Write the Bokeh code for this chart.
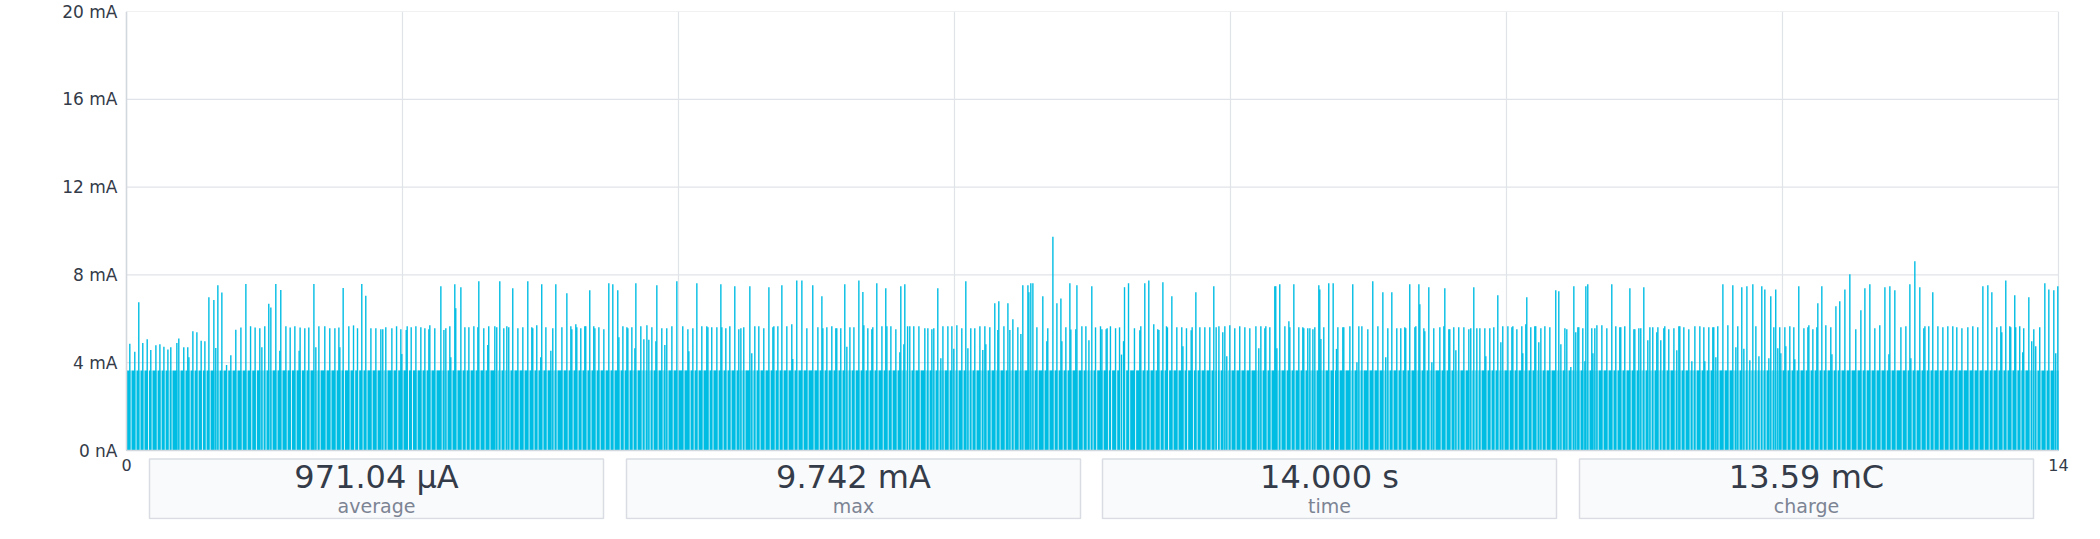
import numpy as np
from bokeh.plotting import figure
from bokeh.models import FixedTicker, Range1d
from bokeh.core.properties import value
from bokeh.embed import file_html
from bokeh.resources import INLINE

# ---------------- data ----------------
# spike times (ms) and spike peak currents (mA), in eight consecutive sections
t0 = [24,60,89,118,150,176,213,242,271,300,321,365,379,415,444,452,481,510,541,568,597,633,647,662,691,725,756,792,829,865,899,932,966,981,1002,1031,1046,1082,1111,1118,1155,1186,1220,1251,1258,1292,1321,1358,1372,1394,1437,1473,1510,1539,1546,1570,1611,1645,1674,1705,1734]
p0 = [4.86,4.5,6.75,4.9,5.07,4.58,4.8,4.84,4.73,4.6,4.7,4.9,5.1,4.7,4.7,4.25,5.43,5.39,5.0,4.98,6.98,6.86,4.67,7.53,7.2,3.9,4.34,5.5,5.6,7.59,5.66,5.6,5.57,4.7,5.66,6.68,6.52,7.59,4.55,7.31,5.66,5.6,5.66,4.55,5.6,5.57,5.6,7.59,4.7,5.66,5.66,5.57,5.57,5.6,4.7,7.4,5.66,5.7,5.57,7.59,7.05]
t1 = [1771,1807,1843,1857,1879,1923,1957,1988,1995,2027,2034,2063,2097,2133,2162,2191,2198,2234,2278,2300,2314,2343,2350,2379,2386,2423,2452,2481,2517,2546,2553,2589,2618,2625,2669,2683,2705,2734,2756,2770,2799,2836,2872,2908,2937,2944,2973,3002,3009,3039,3075,3089,3111,3155,3191,3220,3227,3256,3263,3292,3321,3328,3357,3386,3394,3423,3459,3495]
p1 = [5.57,5.57,5.52,5.52,5.61,5.57,5.66,5.52,4.4,5.49,5.66,5.61,5.66,5.61,5.57,5.52,5.71,5.57,7.48,5.49,5.57,5.66,4.25,7.57,6.48,7.44,5.61,5.61,5.66,5.61,7.71,5.57,4.81,5.66,5.66,5.61,7.71,5.57,5.66,5.61,7.39,5.57,5.61,7.71,5.61,5.57,5.71,4.25,7.57,5.61,4.55,5.57,7.57,5.61,7.16,5.66,5.52,5.75,5.61,5.57,5.66,5.66,7.3,5.66,5.57,5.61,5.52,7.62]
t2 = [3524,3560,3568,3597,3626,3633,3662,3684,3691,3727,3749,3771,3785,3807,3836,3843,3879,3901,3915,3952,3988,4031,4068,4075,4104,4133,4169,4205,4213,4241,4278,4307,4314,4343,4372,4408,4437,4452,4473,4517,4531,4553,4582,4618,4655,4684,4691,4720,4749,4785,4821,4828,4857,4894,4930,4973,5010,5039,5046,5075,5111,5140,5147,5176,5205,5220,5242]
p2 = [7.57,7.3,5.16,5.66,5.61,5.57,5.61,4.66,7.62,5.66,5.07,5.71,5.04,5.61,4.98,7.53,5.57,4.81,5.57,5.66,7.71,5.66,5.52,4.52,5.57,7.62,5.66,5.66,5.61,5.61,5.61,7.57,5.61,5.57,5.66,7.48,5.52,5.57,5.61,7.48,4.43,5.66,5.66,5.57,7.44,5.61,5.66,5.66,7.53,5.66,5.75,4.17,7.75,7.75,5.57,7.53,5.61,7.03,5.57,5.61,5.66,5.57,5.57,5.57,7.57,4.73,5.61]
t3 = [5271,5307,5336,5343,5372,5401,5408,5437,5474,5502,5510,5539,5575,5604,5611,5633,5640,5660,5676,5705,5742,5785,5807,5836,5850,5879,5901,5916,5952,5981,5995,6017,6053,6082,6097,6118,6147,6184,6205,6220,6227,6256,6292,6314,6321,6358,6387,6401,6423,6459,6481,6495,6532,6539,6553,6568,6597,6640,6669,6676,6713,6742,6771,6778,6807,6836,6843,6879,6887,6923,6952,6974,6995]
p3 = [5.61,7.75,7.22,5.71,5.57,5.52,5.61,7.62,5.66,7.39,5.66,5.66,5.52,4.48,7.48,4.84,7.57,5.66,5.66,5.66,5.66,5.57,5.57,5.52,5.57,7.39,4.2,5.66,5.66,5.66,4.63,5.71,5.57,7.71,4.66,5.57,5.57,5.66,4.58,5.66,4.84,5.61,6.71,5.49,6.8,5.66,6.71,5.49,5.98,5.61,5.31,7.53,7.53,7.21,7.62,7.62,5.61,7.03,4.98,5.57,9.74,6.71,6.93,4.98,5.61,7.62,5.51,5.52,7.53,5.66,5.66,5.02,7.48]
t4 = [7022,7058,7068,7099,7106,7130,7167,7196,7210,7225,7232,7261,7304,7343,7350,7379,7408,7444,7473,7481,7510,7536,7543,7575,7611,7647,7655,7681,7715,7722,7749,7778,7814,7850,7879,7896,7916,7944,7959,7973,7995,8031,8067,8104,8140,8184,8205,8220,8249,8256,8285,8321,8328,8336,8357,8394,8423,8430,8459,8495,8524,8531,8560,8575,8597,8611,8640,8647,8655,8676,8712,8744]
p4 = [5.61,5.66,5.52,5.52,5.57,5.66,5.57,5.61,4.37,4.98,7.44,7.62,5.57,5.48,5.66,7.62,7.75,5.75,5.52,5.49,7.66,5.66,5.61,7.03,5.61,5.61,4.75,5.57,5.48,5.61,7.21,5.61,5.61,5.61,7.48,5.61,5.66,5.39,5.66,4.29,5.71,5.57,5.66,5.61,5.57,5.66,4.66,5.66,5.57,5.66,5.61,7.48,7.48,4.66,7.57,5.66,5.89,5.61,7.57,5.61,5.61,5.57,5.57,5.57,5.52,5.61,7.53,7.34,5.08,5.61,7.62,7.62]
t5 = [8768,8778,8814,8821,8865,8886,8916,8930,8952,8995,9031,9068,9104,9125,9140,9169,9205,9234,9263,9270,9299,9336,9343,9365,9372,9401,9408,9437,9459,9473,9517,9546,9553,9582,9589,9618,9633,9654,9691,9727,9741,9763,9785,9807,9843,9850,9879,9908,9937,9959,9973,10010,10039,10046,10075,10111,10118,10140,10147,10176,10205,10212,10234,10249,10278,10314,10357,10379,10394,10423,10437,10466,10488,10502,10517]
p5 = [4.63,5.61,5.61,5.61,5.66,7.57,4.02,5.66,5.66,5.52,7.71,5.66,7.21,4.25,5.57,7.21,5.57,5.57,5.61,5.57,7.57,5.61,5.66,7.57,6.66,5.57,5.43,7.44,4.02,5.57,5.61,5.66,7.39,5.52,5.52,5.61,4.57,5.61,5.61,5.52,5.57,7.44,5.57,5.57,5.57,4.29,5.57,5.61,7.07,4.93,5.66,5.66,5.61,5.66,5.52,5.66,4.43,5.75,6.98,5.61,5.66,5.66,4.93,5.57,5.66,5.61,7.3,7.25,4.84,5.57,5.52,3.8,7.48,5.39,5.61]
t6 = [10524,10553,10568,10575,10589,10618,10626,10640,10655,10691,10727,10763,10792,10821,10828,10857,10894,10923,10930,10959,10973,10995,11024,11039,11060,11089,11097,11118,11140,11147,11176,11213,11234,11249,11256,11285,11321,11343,11365,11401,11430,11437,11466,11495,11502,11517,11531,11568,11604,11640,11662,11676,11705,11720,11742,11763,11785,11807,11829,11850,11872,11901,11915,11937,11951,11966,11980,11988,12017,12024,12053,12082,12089,12118,12155,12184,12191,12220,12249,12256]
p6 = [5.61,5.57,4.07,7.48,7.57,5.57,4.43,5.57,5.71,5.71,5.57,7.57,5.66,5.61,5.61,5.66,7.39,5.52,5.52,5.57,5.57,7.44,5.02,5.61,5.61,5.39,5.61,5.02,5.57,5.66,5.52,5.57,4.57,5.66,5.66,5.61,5.52,4.07,5.66,5.66,5.61,4.07,5.61,5.61,5.61,4.25,5.66,7.57,5.71,7.53,4.7,5.66,7.44,4.63,7.48,4.11,7.57,5.66,4.29,7.48,7.34,4.2,7.03,5.61,7.34,4.66,5.61,4.43,5.61,4.75,5.66,5.61,4.16,7.48,5.57,5.61,5.71,5.52,5.61,6.71]
t7 = [12285,12314,12350,12358,12387,12415,12452,12488,12531,12568,12597,12633,12669,12705,12742,12771,12778,12814,12858,12894,12923,12930,12959,12995,13024,13032,13060,13089,13126,13162,13198,13234,13263,13300,13343,13379,13415,13452,13488,13517,13553,13582,13589,13618,13647,13654,13683,13690,13719,13741,13748,13785,13806,13821,13835,13864,13901,13930,13966,13980,13995]
p7 = [7.48,5.71,5.61,4.39,6.57,6.8,7.34,8.03,5.52,6.39,7.39,7.57,5.57,5.71,7.44,4.39,7.48,7.3,5.61,5.66,7.57,4.2,8.62,7.44,5.57,5.66,5.66,7.21,5.66,5.61,5.66,5.66,5.61,5.57,5.61,5.66,5.61,7.48,7.53,7.21,5.61,5.66,5.39,7.75,5.66,5.61,7.07,5.61,5.66,4.48,5.57,6.98,4.98,5.52,4.75,5.61,7.62,7.34,7.3,4.43,7.48]

BASE_MA = 3.65          # quiescent plateau between spikes
DURATION_S = 14.0
Y_MAX_MA = 20.0

STAT_VALUES = ["971.04 µA", "9.742 mA", "14.000 s", "13.59 mC"]
STAT_NAMES = ["average", "max", "time", "charge"]

Y_TICKS_MA = [0, 4, 8, 12, 16, 20]
Y_TICK_LABELS = ["0 nA", "4 mA", "8 mA", "12 mA", "16 mA", "20 mA"]
X_TICKS_S = [0, 2, 4, 6, 8, 10, 12, 14]
X_TICK_LABELS = ["0", "", "", "", "", "", "", "14"]

# ---------------- layout (canvas pixels) ----------------
W, H = 2088, 539
ML, MR, MT, MB = 117, 14, 11, 20
X0_PX, XEND_PX = 126, 2058            # columns of t = 0 s and t = 14 s
FRAME_LEFT, FRAME_RIGHT = ML, W - MR
FRAME_TOP, FRAME_BOTTOM = MT, H - MB
ZERO_Y = 450                          # row of 0 mA
S_PER_PX = DURATION_S / (XEND_PX - X0_PX)
PX_PER_MA = (ZERO_Y - FRAME_TOP) / Y_MAX_MA

def px_x(px):   # canvas column -> seconds
    return (px - X0_PX) * S_PER_PX

def px_y(py):   # canvas row -> mA
    return (ZERO_Y - py) / PX_PER_MA

CYAN = "#00bde3"
GRID = "#e0e3e8"
AXIS = "#d3d8de"
DARK = "#343b49"
GREY = "#7c8494"
FONT = "DejaVu Sans"

times_ms = t0 + t1 + t2 + t3 + t4 + t5 + t6 + t7
peaks_ma = p0 + p1 + p2 + p3 + p4 + p5 + p6 + p7
t = np.array(times_ms, dtype=float) / 1000.0
pk = np.array(peaks_ma, dtype=float)

fig = figure(width=W, height=H,
             x_range=Range1d(px_x(FRAME_LEFT), px_x(FRAME_RIGHT)),
             y_range=Range1d(px_y(FRAME_BOTTOM), Y_MAX_MA),
             output_backend="svg", toolbar_location=None,
             min_border_left=ML, min_border_right=MR, min_border_top=MT, min_border_bottom=MB)
fig.outline_line_color = None
fig.background_fill_color = "white"
fig.border_fill_color = "white"
fig.grid.visible = False

# grid lines limited to the plotting area (0..14 s, 0..20 mA)
fig.segment(x0=X_TICKS_S, y0=[0] * len(X_TICKS_S), x1=X_TICKS_S, y1=[Y_MAX_MA] * len(X_TICKS_S),
            line_color=GRID, line_width=1.2)
fig.segment(x0=[0] * len(Y_TICKS_MA), y0=Y_TICKS_MA, x1=[DURATION_S] * len(Y_TICKS_MA), y1=Y_TICKS_MA,
            line_color=GRID, line_width=1.2)

# plateau blocks between the short drop-outs that follow each spike
lefts, rights = [], []
start = 0.0
for i in range(len(t)):
    last = i == len(t) - 1
    if last or t[i + 1] - t[i] >= 0.012:
        lefts.append(start)
        rights.append(min(t[i] + 0.6 * S_PER_PX, DURATION_S))
        start = t[i] + 1.65 * S_PER_PX
if start < DURATION_S:
    lefts.append(start)
    rights.append(DURATION_S)

fig.quad(left=lefts, right=rights, bottom=0, top=BASE_MA, fill_color=CYAN, line_color=None)
fig.segment(x0=t, y0=0, x1=t, y1=pk, line_color=CYAN, line_width=1.4)

# axis lines
fig.segment(x0=[0, 0], y0=[0, 0], x1=[0, DURATION_S], y1=[Y_MAX_MA, 0], line_color=AXIS, line_width=1.5)

# axes
fig.xaxis.ticker = FixedTicker(ticks=X_TICKS_S)
fig.xaxis.major_label_overrides = {k: v for k, v in zip(X_TICKS_S, X_TICK_LABELS)}
fig.xaxis.fixed_location = px_y(ZERO_Y + 8)
fig.xaxis.major_label_standoff = 0
fig.xaxis.major_label_text_font_size = "16px"
fig.yaxis.ticker = FixedTicker(ticks=Y_TICKS_MA)
fig.yaxis.major_label_overrides = {k: v for k, v in zip(Y_TICKS_MA, Y_TICK_LABELS)}
fig.yaxis.major_label_standoff = 0
fig.yaxis.major_label_text_font_size = "17px"
for ax in (fig.xaxis[0], fig.yaxis[0]):
    ax.axis_line_color = None
    ax.major_tick_line_color = None
    ax.minor_tick_line_color = None
    ax.major_tick_out = 0
    ax.major_tick_in = 0
    ax.major_label_text_font = FONT
    ax.major_label_text_color = DARK

# summary boxes under the trace
BOX_LEFT_PX = [149, 626, 1102, 1579]
BOX_W_PX = 454
BOX_TOP_PX, BOX_BOTTOM_PX = 458.5, 518
fig.quad(left=[px_x(b) for b in BOX_LEFT_PX], right=[px_x(b + BOX_W_PX) for b in BOX_LEFT_PX],
         top=px_y(BOX_TOP_PX), bottom=px_y(BOX_BOTTOM_PX),
         fill_color="#f9fafb", line_color="#d9dde3", line_width=1.5)
centers = [px_x(b + BOX_W_PX / 2) for b in BOX_LEFT_PX]
fig.text(x=centers, y=[px_y(476.5)] * 4, text=STAT_VALUES, text_align="center",
         text_baseline="alphabetic", text_font=value(FONT), text_font_size=value("32px"),
         text_color=DARK)
fig.text(x=centers, y=[px_y(505)] * 4, text=STAT_NAMES, text_align="center",
         text_baseline="alphabetic", text_font=value(FONT), text_font_size=value("19px"),
         text_color=GREY)

open("out.html", "w").write(file_html(fig, INLINE))
